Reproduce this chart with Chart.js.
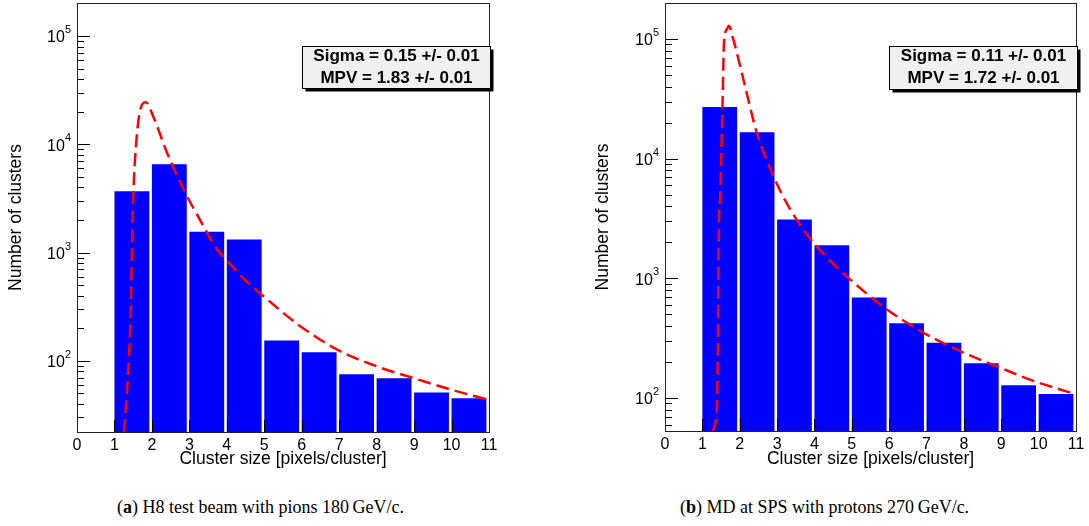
<!DOCTYPE html>
<html>
<head>
<meta charset="utf-8">
<script src="https://cdn.jsdelivr.net/npm/chart.js@4.4.0/dist/chart.umd.min.js"></script>
<style>
  body { margin: 0; background: #fff; width: 1089px; height: 526px; position: relative; overflow: hidden; }
  canvas { position: absolute; top: 0; }
  #cA { left: 0; }
  #cB { left: 545px; }
  .cap { position: absolute; top: 495px; font: 18px "Liberation Serif", "DejaVu Serif", serif; color: #000; white-space: nowrap; line-height: 24px; }
  #capA { left: 117px; }
  #capB { left: 680px; }
</style>
</head>
<body>
<canvas id="cA" width="540" height="480"></canvas>
<canvas id="cB" width="544" height="480"></canvas>
<div class="cap" id="capA">(<b>a</b>) H8 test beam with pions 180&thinsp;GeV/c.</div>
<div class="cap" id="capB">(<b>b</b>) MD at SPS with protons 270&thinsp;GeV/c.</div>
<script>
// bins (lower edge of each 1-pixel-wide bin)
const binLow = [1, 2, 3, 4, 5, 6, 7, 8, 9, 10];

// (a) H8 test beam, pions 180 GeV/c
const countsA = [3680, 6530, 1560, 1320, 154, 120, 75, 69, 51, 45];
const fitXA = [1.255, 1.353, 1.433, 1.477, 1.504, 1.594, 1.709, 1.834, 2.04, 2.395, 2.84, 3.284, 3.73, 4.0, 4.62, 4.93, 5.95, 7.0, 8.0, 9.0, 10.0, 10.94];
const fitYA = [22, 67, 276, 1600, 3510, 11700, 22100, 24500, 17900, 8490, 3860, 2000, 1080, 843, 503, 408, 210, 124, 89, 69, 54, 44];
const statsA = ['Sigma = 0.15 +/- 0.01', 'MPV = 1.83 +/- 0.01'];

// (b) MD at SPS, protons 270 GeV/c
const countsB = [27000, 16600, 3110, 1890, 693, 421, 290, 195, 128, 108];
const fitXB = [1.267, 1.384, 1.41, 1.44, 1.473, 1.517, 1.544, 1.58, 1.66, 1.706, 1.83, 2.10, 2.456, 2.90, 3.35, 3.97, 4.42, 4.95, 5.94, 6.92, 7.90, 8.88, 9.86, 10.93];
const fitYB = [53, 77, 195, 2570, 4570, 14500, 33100, 95500, 121000, 129000, 98700, 45700, 16500, 7160, 3770, 1990, 1400, 980, 550, 351, 246, 184, 139, 109];
const statsB = ['Sigma = 0.11 +/- 0.01', 'MPV = 1.72 +/- 0.01'];

const xTicks = [0, 11];
const BAR_FRAC = 0.93;
const FONT = '"Liberation Sans", Arial, Helvetica, sans-serif';

// ROOT-like frame: inward ticks, log minor ticks, 10^n labels, stats box
const rootFrame = {
    id: 'rootFrame',
    afterDatasetsDraw(chart, args, opts) {
        const { ctx, chartArea: a, scales: { x, y } } = chart;
        ctx.save();
        ctx.strokeStyle = '#000';
        ctx.lineWidth = 1;
        ctx.beginPath();
        x.ticks.forEach(t => {
            const px = Math.round(x.getPixelForValue(t.value)) + 0.5;
            ctx.moveTo(px, a.bottom);
            ctx.lineTo(px, a.bottom - 12);
        });
        const e0 = Math.floor(Math.log10(y.min)), e1 = Math.ceil(Math.log10(y.max));
        for (let e = e0; e <= e1; e++) {
            for (let m = 1; m < 10; m++) {
                const v = m * Math.pow(10, e);
                if (v < y.min || v > y.max) continue;
                const py = Math.round(y.getPixelForValue(v)) + 0.5;
                ctx.moveTo(a.left, py);
                ctx.lineTo(a.left + (m === 1 ? 13 : 7), py);
            }
        }
        ctx.stroke();

        // frame
        ctx.strokeStyle = '#222';
        ctx.strokeRect(Math.round(a.left) + 0.5, Math.round(a.top) + 0.5, Math.round(a.right - a.left), Math.round(a.bottom - a.top));

        // decade labels
        ctx.fillStyle = '#000';
        ctx.textBaseline = 'middle';
        for (let e = e0; e <= e1; e++) {
            const v = Math.pow(10, e);
            if (v < y.min || v > y.max) continue;
            const py = y.getPixelForValue(v);
            ctx.font = '11px ' + FONT;
            const exp = String(e);
            const ew = ctx.measureText(exp).width;
            const right = a.left - opts.labelGap;
            ctx.textAlign = 'left';
            ctx.fillText(exp, right - ew, py - 6);
            ctx.font = '16px ' + FONT;
            ctx.textAlign = 'right';
            ctx.fillText('10', right - ew, py + 2);
        }

        // stats box
        const bw = opts.boxW, bh = opts.boxH;
        const bx = Math.round(a.right - bw + 1) + 0.5, by = opts.boxTop + 0.5;
        ctx.fillStyle = '#000';
        ctx.fillRect(bx + 3, by + 3, bw, bh);
        ctx.fillStyle = '#f0f0f0';
        ctx.fillRect(bx, by, bw, bh);
        ctx.strokeStyle = '#000';
        ctx.strokeRect(bx, by, bw, bh);
        ctx.fillStyle = '#000';
        ctx.font = 'bold 17px ' + FONT;
        ctx.textAlign = 'center';
        ctx.textBaseline = 'middle';
        opts.lines.forEach((s, i) => ctx.fillText(s, bx + bw / 2, by + 10 + i * 22));
        ctx.restore();
    }
};

function makeChart(id, counts, fitX, fitY, stats, cfg) {
    const bars = binLow.map((b, i) => ({ x: b + BAR_FRAC / 2, y: counts[i] }));
    const fit = fitX.map((v, i) => ({ x: v, y: fitY[i] }));
    return new Chart(document.getElementById(id), {
        type: 'bar',
        data: {
            datasets: [
                {
                    type: 'line', data: fit, order: 0,
                    borderColor: '#ff0000', borderWidth: 2.5, borderDash: [13, 6],
                    pointRadius: 0, cubicInterpolationMode: 'monotone', fill: false
                },
                {
                    type: 'bar', data: bars, order: 1,
                    backgroundColor: '#0000ff', borderWidth: 0,
                    barPercentage: BAR_FRAC, categoryPercentage: 1
                }
            ]
        },
        options: {
            responsive: false, animation: false, devicePixelRatio: 1,
            layout: { padding: { left: cfg.padLeft, right: cfg.padRight, top: 3, bottom: 0 } },
            plugins: {
                legend: { display: false }, tooltip: { enabled: false },
                rootFrame: { lines: stats, boxTop: cfg.boxTop, boxW: 188, boxH: cfg.boxH, labelGap: 6 }
            },
            scales: {
                x: {
                    type: 'linear', min: xTicks[0], max: xTicks[1], offset: false,
                    grid: { display: false, drawTicks: false }, border: { display: false },
                    ticks: { stepSize: 1, color: '#000', font: { family: FONT, size: 16 }, padding: 4, maxRotation: 0 },
                    title: { display: true, text: 'Cluster size [pixels/cluster]', color: '#000', font: { family: FONT, size: 17.5 }, padding: { top: 0, bottom: 10 } },
                    afterFit(s) { s.height = cfg.xH; }
                },
                y: {
                    type: 'logarithmic', min: cfg.yMin, max: cfg.yMax,
                    grid: { display: false, drawTicks: false }, border: { display: false },
                    ticks: { display: false },
                    title: { display: true, text: 'Number of clusters', color: '#000', font: { family: FONT, size: 17.5 }, padding: { top: cfg.yTitlePad, bottom: 0 } },
                    afterFit(s) { s.width = cfg.yW; }
                }
            }
        },
        plugins: [rootFrame]
    });
}

makeChart('cA', countsA, fitXA, fitYA, statsA,
    { padLeft: 0, padRight: 51, yW: 77, xH: 48, yMin: 22, yMax: 2.02e5, yTitlePad: 6, boxTop: 46, boxH: 42 });
makeChart('cB', countsB, fitXB, fitYB, statsB,
    { padLeft: 40, padRight: 13, yW: 80, xH: 49, yMin: 53, yMax: 2.0e5, yTitlePad: 8, boxTop: 46, boxH: 43 });
</script>
</body>
</html>
